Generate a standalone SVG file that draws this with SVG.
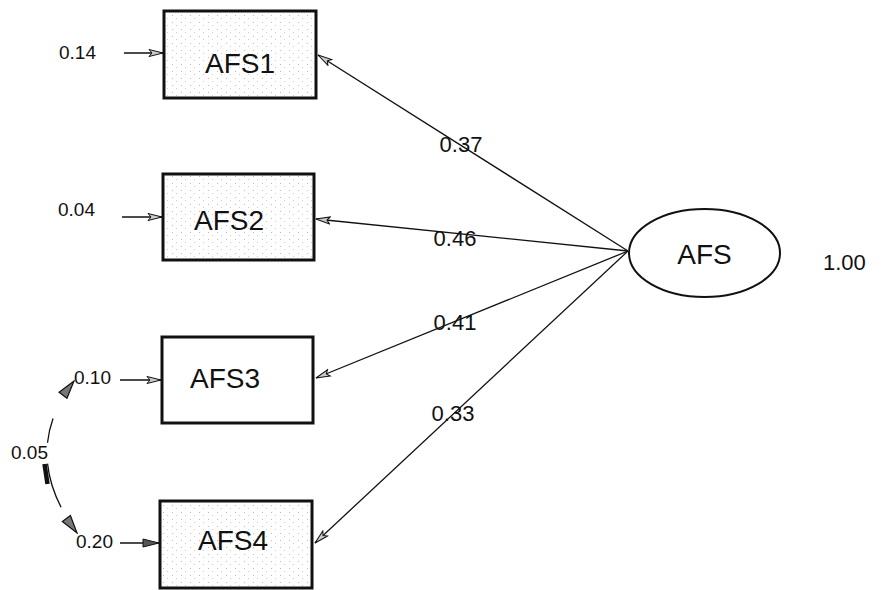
<svg xmlns="http://www.w3.org/2000/svg" width="888" height="590" viewBox="0 0 888 590">
<style>
.box{stroke:#111;stroke-width:3}
.lbl{font-family:"Liberation Sans",Arial,sans-serif;fill:#111}
.node{font-size:28px;text-anchor:middle}
.num{font-size:19px}
.path{font-size:22px;text-anchor:middle}
.conn{stroke:#111;stroke-width:1.3;fill:none}
</style>
<defs>
<pattern id="stip" width="9" height="7" patternUnits="userSpaceOnUse">
<rect width="9" height="7" fill="#fff"/>
<rect x="1" y="1" width="1" height="1" fill="#bbb"/>
<rect x="5" y="4" width="1" height="1" fill="#ccc"/>
</pattern>
<marker id="ah" markerUnits="userSpaceOnUse" markerWidth="16" markerHeight="10" refX="15" refY="5" orient="auto">
<path d="M1,1.5 L15,5 L1,8.5 L4,5 Z" fill="#ccc" stroke="#111" stroke-width="1"/>
</marker>
<marker id="ahd" markerUnits="userSpaceOnUse" markerWidth="18" markerHeight="10" refX="17" refY="5" orient="auto">
<path d="M1,1 L17,5 L1,9 Z" fill="#555" stroke="#111" stroke-width="1"/>
</marker>
<marker id="ahc" markerUnits="userSpaceOnUse" markerWidth="20" markerHeight="12" refX="19" refY="6" orient="auto-start-reverse">
<path d="M1,1 L19,6 L1,11 Z" fill="#777" stroke="#111" stroke-width="1.2"/>
</marker>
</defs>
<rect width="888" height="590" fill="#fff"/>
<g id="connectors">
<line class="conn" x1="628" y1="251" x2="318" y2="55" marker-end="url(#ah)"/>
<line class="conn" x1="628" y1="251" x2="316" y2="219" marker-end="url(#ah)"/>
<line class="conn" x1="628" y1="251" x2="316" y2="378" marker-end="url(#ah)"/>
<line class="conn" x1="628" y1="251" x2="315" y2="543" marker-end="url(#ah)"/>
<line class="conn" x1="124" y1="53" x2="163" y2="53" marker-end="url(#ah)"/>
<line class="conn" x1="122" y1="217" x2="162" y2="217" marker-end="url(#ah)"/>
<line class="conn" x1="120" y1="380" x2="161" y2="380" marker-end="url(#ah)"/>
<line class="conn" x1="120" y1="543" x2="159" y2="543" marker-end="url(#ahd)"/>
<path class="conn" d="M74,381 Q18.5,453 77,533" stroke-width="2" stroke-dasharray="0 43 25 21 46 200" marker-start="url(#ahc)" marker-end="url(#ahc)"/>
<line x1="44.5" y1="464" x2="47.5" y2="484" stroke="#111" stroke-width="4.5"/>
<text class="lbl path" x="461" y="152">0.37</text>
<text class="lbl path" x="455" y="246">0.46</text>
<text class="lbl path" x="455" y="330">0.41</text>
<text class="lbl path" x="453" y="421">0.33</text>
<text class="lbl num" x="11" y="459">0.05</text>
</g>
<g id="AFS1">
<rect class="box" x="164" y="11" width="152" height="87" fill="url(#stip)"/>
<text class="lbl node" x="240" y="73">AFS1</text>
<text class="lbl num" x="59" y="59" font-size="20">0.14</text>
</g>
<g id="AFS2">
<rect class="box" x="163" y="174" width="151" height="86" fill="url(#stip)"/>
<text class="lbl node" x="229" y="230">AFS2</text>
<text class="lbl num" x="58" y="216" font-size="20">0.04</text>
</g>
<g id="AFS3">
<rect class="box" x="162" y="337" width="151" height="86" fill="#fff"/>
<text class="lbl node" x="225" y="388">AFS3</text>
<text class="lbl num" x="74" y="384">0.10</text>
</g>
<g id="AFS4">
<rect class="box" x="160" y="501" width="152" height="87" fill="url(#stip)"/>
<text class="lbl node" x="233" y="550">AFS4</text>
<text class="lbl num" x="76" y="548">0.20</text>
</g>
<g id="AFS">
<ellipse cx="704.5" cy="253" rx="75.5" ry="44" fill="#fff" stroke="#111" stroke-width="2"/>
<text class="lbl node" x="704.5" y="264" font-size="29">AFS</text>
<text class="lbl" x="823" y="270" font-size="22">1.00</text>
</g>
</svg>
